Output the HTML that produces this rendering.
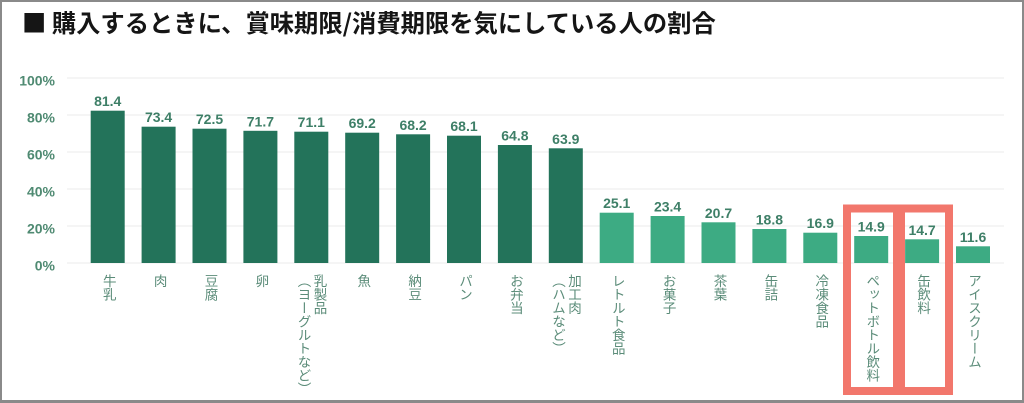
<!DOCTYPE html>
<html><head><meta charset="utf-8"><style>
html,body{margin:0;padding:0;background:#fff;}
body{width:1024px;height:403px;position:relative;overflow:hidden;}
.frame{position:absolute;left:0;top:0;width:1020px;height:398px;border-style:solid;border-color:#8a8a8a;border-width:2px 2px 3px 2px;}
.title{position:absolute;left:22px;top:2px;font-family:"Noto Sans CJK JP","Liberation Sans",sans-serif;font-weight:bold;font-size:24.3px;line-height:40px;color:#151515;white-space:nowrap;}
.xl{position:absolute;top:274px;writing-mode:vertical-rl;font-family:"Liberation Sans","Noto Sans CJK JP",sans-serif;font-size:13.5px;line-height:16px;color:#5b8c79;white-space:nowrap;transform:translateX(-50%);}
svg{position:absolute;left:0;top:0;}
</style></head><body>
<div class="frame"></div>
<div class="title">■ 購入するときに、賞味期限/消費期限を気にしている人の割合</div>
<svg width="1024" height="403" viewBox="0 0 1024 403" xmlns="http://www.w3.org/2000/svg">
<g stroke="#ebebeb" stroke-width="1">
<line x1="67" y1="78" x2="1004" y2="78"/>
<line x1="67" y1="115" x2="1004" y2="115"/>
<line x1="67" y1="152" x2="1004" y2="152"/>
<line x1="67" y1="189" x2="1004" y2="189"/>
<line x1="67" y1="226" x2="1004" y2="226"/>
<line x1="67" y1="263" x2="1004" y2="263"/>
</g>
<g font-family="Liberation Sans, sans-serif" font-weight="bold" font-size="14" fill="#4f8a72" text-anchor="end">
<text x="55" y="85.5">100%</text>
<text x="55" y="122.5">80%</text>
<text x="55" y="159.5">60%</text>
<text x="55" y="196.5">40%</text>
<text x="55" y="233.5">20%</text>
<text x="55" y="270.5">0%</text>
</g>
<g fill="#23735a">
<rect x="90.7" y="110.7" width="34" height="152.3"/>
<rect x="141.6" y="126.7" width="34" height="136.3"/>
<rect x="192.5" y="128.7" width="34" height="134.3"/>
<rect x="243.4" y="130.8" width="34" height="132.2"/>
<rect x="294.3" y="131.7" width="34" height="131.3"/>
<rect x="345.2" y="132.7" width="34" height="130.3"/>
<rect x="396.1" y="134.3" width="34" height="128.7"/>
<rect x="447.0" y="135.7" width="34" height="127.3"/>
<rect x="497.9" y="145.0" width="34" height="118.0"/>
<rect x="548.8" y="148.3" width="34" height="114.7"/>
</g>
<g fill="#3dab83">
<rect x="599.7" y="212.7" width="34" height="50.3"/>
<rect x="650.6" y="216.0" width="34" height="47.0"/>
<rect x="701.5" y="222.3" width="34" height="40.7"/>
<rect x="752.4" y="229.0" width="34" height="34.0"/>
<rect x="803.3" y="232.7" width="34" height="30.3"/>
<rect x="854.2" y="236.0" width="34" height="27.0"/>
<rect x="905.1" y="239.3" width="34" height="23.7"/>
<rect x="956.0" y="246.3" width="34" height="16.7"/>
</g>
<g font-family="Liberation Sans, sans-serif" font-weight="bold" font-size="14" fill="#3e7f67" text-anchor="middle">
<text x="107.7" y="106.2">81.4</text>
<text x="158.6" y="122.2">73.4</text>
<text x="209.5" y="124.2">72.5</text>
<text x="260.4" y="126.3">71.7</text>
<text x="311.3" y="127.2">71.1</text>
<text x="362.2" y="128.2">69.2</text>
<text x="413.1" y="129.8">68.2</text>
<text x="464.0" y="131.2">68.1</text>
<text x="514.9" y="140.5">64.8</text>
<text x="565.8" y="143.8">63.9</text>
<text x="616.7" y="208.2">25.1</text>
<text x="667.6" y="211.5">23.4</text>
<text x="718.5" y="217.8">20.7</text>
<text x="769.4" y="224.5">18.8</text>
<text x="820.3" y="228.2">16.9</text>
<text x="871.2" y="231.5">14.9</text>
<text x="922.1" y="234.8">14.7</text>
<text x="973.0" y="241.8">11.6</text>
</g>
</svg>
<div class="xl" style="left:107.7px">牛乳</div>
<div class="xl" style="left:158.6px">肉</div>
<div class="xl" style="left:209.5px">豆腐</div>
<div class="xl" style="left:260.4px">卵</div>
<div class="xl" style="left:310.5px">乳製品<br>（ヨーグルトなど）</div>
<div class="xl" style="left:362.2px">魚</div>
<div class="xl" style="left:413.1px">納豆</div>
<div class="xl" style="left:464.0px">パン</div>
<div class="xl" style="left:514.9px">お弁当</div>
<div class="xl" style="left:565.0px">加工肉<br>（ハムなど）</div>
<div class="xl" style="left:616.7px">レトルト食品</div>
<div class="xl" style="left:667.6px">お菓子</div>
<div class="xl" style="left:718.5px">茶葉</div>
<div class="xl" style="left:769.4px">缶詰</div>
<div class="xl" style="left:820.3px">冷凍食品</div>
<div class="xl" style="left:871.2px">ペットボトル飲料</div>
<div class="xl" style="left:922.1px">缶飲料</div>
<div class="xl" style="left:973.0px">アイスクリーム</div>
<svg width="1024" height="403" viewBox="0 0 1024 403" xmlns="http://www.w3.org/2000/svg">
<g fill="none" stroke="#f2776c" stroke-width="8">
<rect x="847" y="208.5" width="50" height="182.5"/>
<rect x="901" y="208.5" width="48" height="182.5"/>
</g>
</svg>
</body></html>
